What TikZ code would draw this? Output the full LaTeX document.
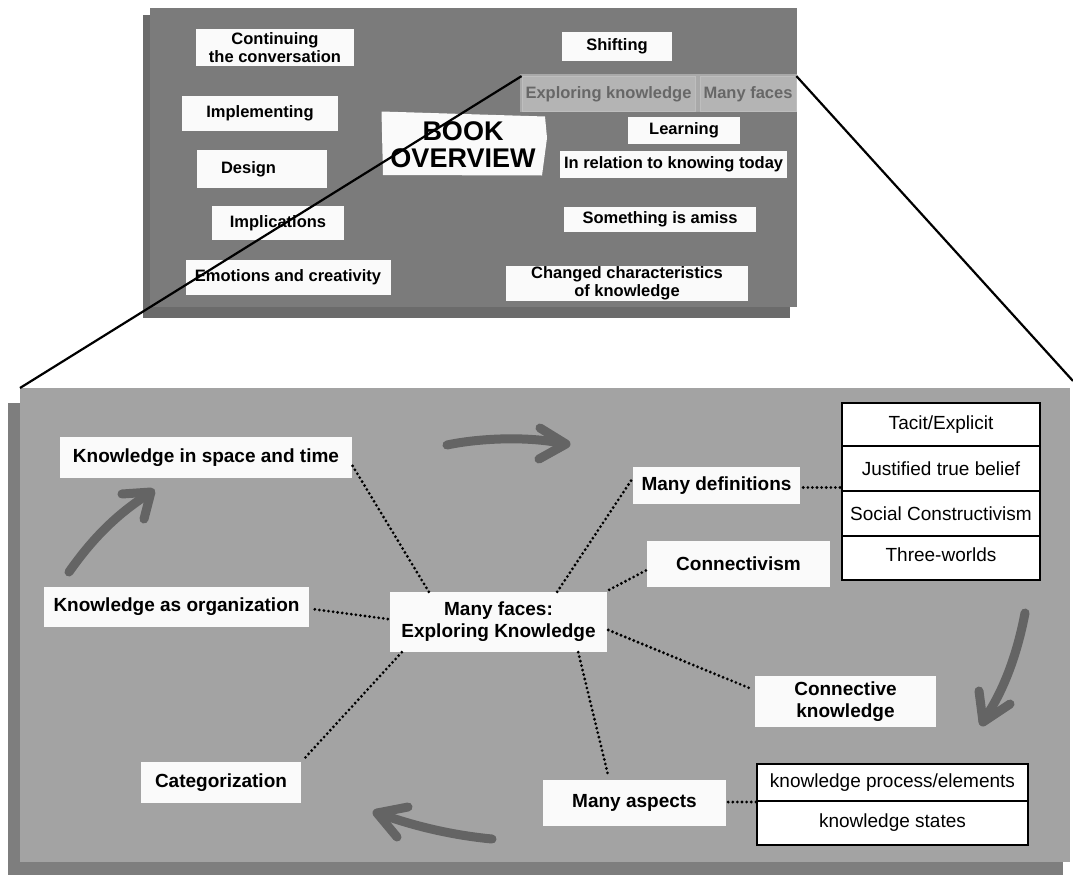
\documentclass[tikz,border=0pt]{standalone}
\usepackage{fontspec}
\setmainfont{Liberation Sans}
\usetikzlibrary{calc}
\definecolor{toppanel}{HTML}{7B7B7B}
\definecolor{topshadow}{HTML}{6B6B6B}
\definecolor{botpanel}{HTML}{A3A3A3}
\definecolor{botshadow}{HTML}{7E7E7E}
\definecolor{arrowgray}{HTML}{646464}
\definecolor{tabgroup}{HTML}{A9A9A9}
\definecolor{tabfill}{HTML}{B4B4B4}
\definecolor{tabline}{HTML}{BEBEBE}
\definecolor{tabtext}{HTML}{676767}
\definecolor{paper}{HTML}{FAFAFA}
\begin{document}
\begin{tikzpicture}[x=1pt,y=-1pt,
  sz/.style 2 args={minimum width=#1pt,minimum height=#2pt},
  topbox/.style={fill=paper,inner sep=0pt,align=center,
    font=\bfseries\fontsize{16.5}{17.5}\selectfont},
  tabbox/.style={fill=tabfill,draw=tabline,line width=0.8pt,inner sep=0pt,
    text=tabtext,font=\bfseries\fontsize{16.5}{17.5}\selectfont},
  botbox/.style={fill=paper,inner sep=0pt,align=center,
    font=\bfseries\fontsize{19}{22}\selectfont},
  cell/.style={draw=black,line width=1.2pt,fill=white,inner sep=0pt,
    minimum width=#1pt,font=\fontsize{19}{22}\selectfont},
  dotline/.style={line width=3.1pt,dash pattern=on 0pt off 4.6pt,line cap=round},
  zoomline/.style={line width=2.2pt,black},
  bigarrow/.style={draw=arrowgray,line width=9pt,line cap=round,line join=round},
]
\useasboundingbox (0,0) rectangle (1073,875);
\fill[white] (0,0) rectangle (1073,875);

% ---------- book overview panel ----------
\fill[topshadow] (143,15) rectangle (790,318);
\fill[toppanel] (150,8) rectangle (797,307);

\node[topbox,sz={158.5}{37}] (cont) at (275,47.5) {Continuing\\the conversation};
\node[topbox,sz={155.5}{35}] (impl) at (260,113.5) {Implementing};
\node[topbox,sz={130}{38},text width=82pt,align=left] (design) at (262,169) {Design};
\node[topbox,sz={132.5}{34}] (implic) at (278,223) {Implications};
\node[topbox,sz={205}{35}] (emot) at (288,277.5) {Emotions and creativity};

\fill[paper] (381.5,111.5) -- (545,116.5) -- (547,138) -- (542,175.5) -- (383,175) -- cycle;
\node[inner sep=0pt,align=center,font=\bfseries\fontsize{27}{27}\selectfont] (book) at (463,145) {BOOK\\OVERVIEW};

\node[topbox,sz={110.5}{29}] (shift) at (617,46.5) {Shifting};
\fill[tabgroup] (520,74) rectangle (797,112);
\node[tabbox,sz={173}{35}] (expl) at (608.5,94) {Exploring knowledge};
\node[tabbox,sz={96}{35}] (manyf) at (748,94) {Many faces};
\node[topbox,sz={112}{27}] (learn) at (684,130.5) {Learning};
\node[topbox,sz={227.6}{27}] (rel) at (673.6,164.5) {In relation to knowing today};
\node[topbox,sz={192}{25}] (amiss) at (660,219.5) {Something is amiss};
\node[topbox,sz={241.6}{35}] (changed) at (627,283.5) {Changed characteristics\\of knowledge};

% ---------- many faces panel ----------
\fill[botshadow] (8,403) rectangle (1063,875);
\fill[botpanel] (20,388) rectangle (1070,862);
\coordinate (zoomL) at (20,388);
\coordinate (zoomR) at (1073,381);

\node[botbox,sz={292}{41}] (kist) at (206,457.5) {Knowledge in space and time};
\node[botbox,sz={265}{40}] (korg) at (176.5,607) {Knowledge as organization};
\node[botbox,sz={217}{60}] (center) at (498.5,622) {Many faces:\\Exploring Knowledge};
\node[botbox,sz={167}{37}] (mdef) at (716.5,485.5) {Many definitions};
\node[botbox,sz={183}{46}] (conn) at (738.5,564) {Connectivism};
\node[botbox,sz={181}{51}] (cknow) at (845.5,701.5) {Connective\\knowledge};
\node[botbox,sz={183}{46}] (aspects) at (634.5,803) {Many aspects};
\node[botbox,sz={160}{41}] (categ) at (221,782.5) {Categorization};

% definitions table
\node[cell=198,minimum height=43pt] (ta) at (941,424.5) {Tacit/Explicit};
\node[cell=198,minimum height=45pt] (tb) at (941,468.5) {Justified true belief};
\node[cell=198,minimum height=45pt] (tc) at (941,513.5) {Social Constructivism};
\node[cell=198,minimum height=44pt,text depth=6pt] (td) at (941,558) {Three-worlds};

% aspects table
\node[cell=271,minimum height=37pt] (sa) at (892.5,782.5) {knowledge process/elements};
\node[cell=271,minimum height=44pt] (sb) at (892.5,823) {knowledge states};

% dotted connectors
\draw[dotline] ($(center.north west)+(39,0)$) -- ($(kist.south east)+(0,-13)$);
\draw[dotline] ($(center.west)+(-2,-3)$) -- ($(korg.east)+(3,2)$);
\draw[dotline] ($(center.south west)+(12,0)$) -- ($(categ.north east)+(2,-2)$);
\draw[dotline] ($(center.north east)+(-50,0)$) -- ($(mdef.west)+(-1,-6)$);
\draw[dotline] ($(center.north east)+(2,-2)$) -- ($(conn.west)+(0,6)$);
\draw[dotline] ($(center.east)+(1,8)$) -- ($(cknow.west)+(-2,-12)$);
\draw[dotline] ($(center.south east)+(-29,0)$) -- ($(aspects.north)+(-26,-3)$);
\draw[dotline] ($(mdef.east)+(3,2)$) -- ($(mdef.east -| tb.west)+(0,2)$);
\draw[dotline] ($(aspects.east)+(2,-1)$) -- ($(aspects.east -| sa.west)+(0,-1)$);

% cycle arrows
\draw[bigarrow] (69,572) .. controls (95,535) and (120,512) .. (150,493);
\draw[bigarrow] (122,494) -- (151,492) -- (144,519);
\draw[bigarrow] (447,445) .. controls (480,438) and (530,436) .. (565,444);
\draw[bigarrow] (540,428) -- (566,444) -- (539,459);
\draw[bigarrow] (1025,613) .. controls (1018,650) and (1005,690) .. (983,721);
\draw[bigarrow] (979,691) -- (983,722) -- (1010,704);
\draw[bigarrow] (492,839) .. controls (450,835) and (410,825) .. (378,813);
\draw[bigarrow] (408,807) -- (377,813) -- (397,837);

% zoom lines from the book overview to the detail panel
\draw[zoomline] (expl.north west) -- (zoomL);
\draw[zoomline] (manyf.north east) -- (zoomR);
\end{tikzpicture}
\end{document}
